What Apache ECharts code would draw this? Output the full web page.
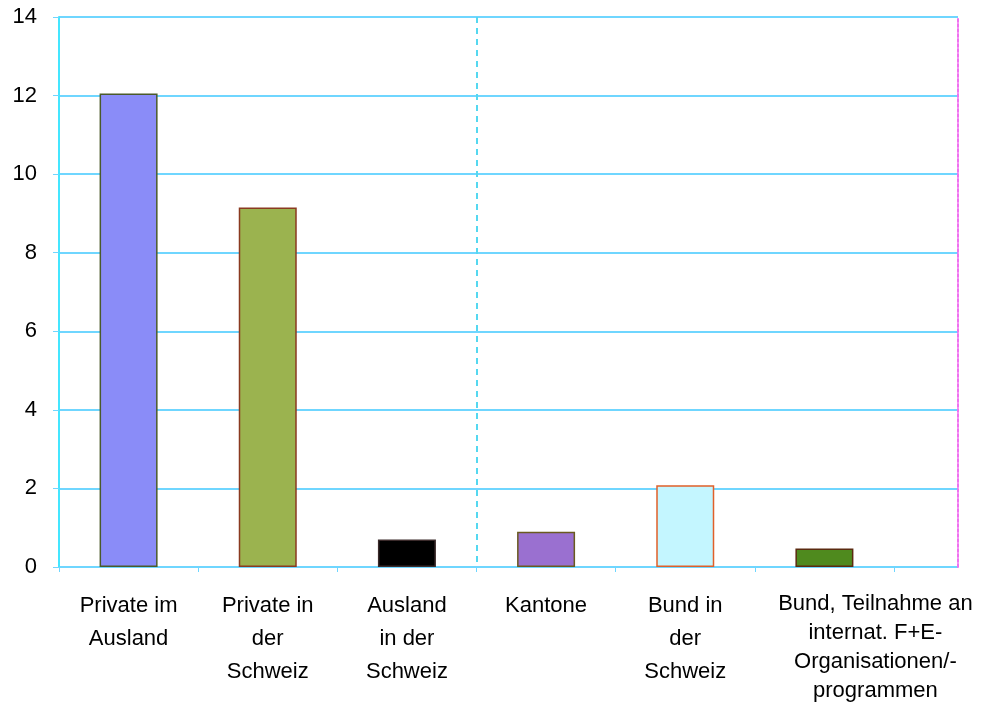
<!DOCTYPE html>
<html>
<head>
<meta charset="utf-8">
<script src="https://cdn.jsdelivr.net/npm/echarts@6/dist/echarts.min.js"></script>
<style>
  html, body { margin: 0; padding: 0; background: #ffffff; }
  #chart { width: 991px; height: 706px; }
</style>
</head>
<body>
<div id="chart"></div>
<script>
// Funding sources (values on a 0–14 scale)
const categories = [
  'Private im\nAusland',
  'Private in\nder\nSchweiz',
  'Ausland\nin der\nSchweiz',
  'Kantone',
  'Bund in\nder\nSchweiz',
  'Bund, Teilnahme an\ninternat. F+E-\nOrganisationen/-\nprogrammen'
];
const values = [12.05, 9.15, 0.7, 0.9, 2.08, 0.47];
const barColors = ['#8a8cf8', '#9bb34f', '#000000', '#9a70d0', '#c4f6ff', '#4f8a1e'];
const barBorders = ['#4a5a2a', '#8a3a20', '#3a2a2a', '#6a5a20', '#e0602a', '#5a2a10'];
const yTicks = { min: 0, max: 14, interval: 2 };
// Two groups: private/foreign funds and public funds
const groups = ['privat', 'öffentlich'];

const gridColor = '#6fd6ff';
const font = 'Liberation Sans, Arial, sans-serif';

const chart = echarts.init(document.getElementById('chart'), null, { renderer: 'canvas' });

chart.setOption({
  backgroundColor: '#ffffff',
  animation: false,
  grid: [
    // Full plot frame with horizontal gridlines
    { left: 59, right: 33, top: 17, bottom: 139, containLabel: false },
    // Category area holding the bars
    { left: 59, right: 97, top: 17, bottom: 139, containLabel: false }
  ],
  xAxis: [
    {
      gridIndex: 0, type: 'category', data: [''], show: false
    },
    {
      gridIndex: 1, type: 'category', data: categories.map((c, i) => {
        if (i === categories.length - 1) {
          return { value: c, textStyle: { lineHeight: 29, padding: [0, 0, 0, 102] } };
        }
        return c;
      }),
      axisLine: { show: false },
      axisTick: { show: true, length: 5, lineStyle: { color: gridColor, width: 1 } },
      axisLabel: {
        color: '#000000', fontFamily: font, fontSize: 22, lineHeight: 33,
        margin: 22, interval: 0, align: 'center'
      },
      splitLine: { show: false }
    },
    {
      // Dashed separator between the two groups
      gridIndex: 1, type: 'category', data: groups, position: 'bottom',
      axisLine: { show: false }, axisTick: { show: false }, axisLabel: { show: false },
      splitLine: {
        show: true, showMinLine: false, showMaxLine: false,
        lineStyle: { color: '#55d8f0', width: 2, type: [6, 5] }
      }
    }
  ],
  yAxis: [
    {
      gridIndex: 0, type: 'value', ...yTicks,
      axisLine: { show: true, lineStyle: { color: '#44e6ff', width: 2 } },
      axisTick: { show: true, length: 6, lineStyle: { color: gridColor } },
      axisLabel: { color: '#000000', fontFamily: font, fontSize: 22, margin: 22 },
      splitLine: { show: true, lineStyle: { color: gridColor, width: 2 } }
    },
    {
      gridIndex: 0, type: 'value', ...yTicks, position: 'right',
      axisLine: { show: true, lineStyle: { color: '#f070f0', width: 2, type: [3, 2] } },
      axisTick: { show: false }, axisLabel: { show: false }, splitLine: { show: false }
    },
    {
      gridIndex: 1, type: 'value', ...yTicks, show: false,
      splitLine: { show: false }
    }
  ],
  series: [
    {
      type: 'bar',
      xAxisIndex: 1,
      yAxisIndex: 2,
      barWidth: 58,
      data: values.map((v, i) => ({
        value: v,
        itemStyle: { color: barColors[i], borderColor: barBorders[i], borderWidth: 1.5 }
      })),
      z: 3
    }
  ]
});
</script>
</body>
</html>
